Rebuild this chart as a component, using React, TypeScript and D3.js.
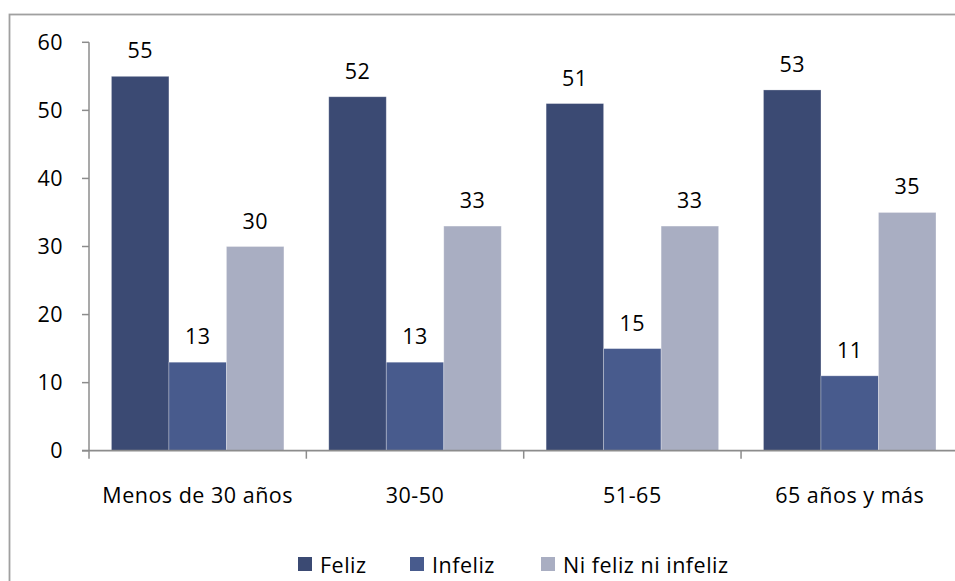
import React from "react";
import * as d3 from "d3";

const categories = ["Menos de 30 años", "30-50", "51-65", "65 años y más"];
const seriesNames = ["Feliz", "Infeliz", "Ni feliz ni infeliz"];
const feliz = [55, 52, 51, 53];
const infeliz = [13, 13, 15, 11];
const niFeliz = [30, 33, 33, 35];
const yTicks = [0, 10, 20, 30, 40, 50, 60];
const colors = ["#3B4A73", "#485B8D", "#A9AEC2"];

const W = 955;
const H = 581;
const FONT = "'Open Sans', 'Liberation Sans', sans-serif";
const FS = 21.5;
const LS = 0.5;

export default function App() {
  const values = [feliz, infeliz, niFeliz];
  const y = d3.scaleLinear().domain([0, 60]).range([450.7, 42.3]);
  const x0 = d3.scaleBand<string>().domain(categories).range([89, 958.4]).padding(0);
  const x1 = d3
    .scaleBand<string>()
    .domain(seriesNames)
    .range([0, x0.bandwidth()])
    .paddingInner(0)
    .paddingOuter(0.39);
  const axisColor = "#8C8C8C";
  const legendX = [298, 410, 541];

  return (
    <svg
      width={W}
      height={H}
      style={{ position: "absolute", left: 0, top: 0, background: "#fff" }}
      fontFamily={FONT}
      letterSpacing={LS}
    >
      <rect x={0} y={0} width={W} height={H} fill="#fff" />
      <rect x={9.5} y={14.5} width={1000} height={700} fill="none" stroke="#A0A0A0" strokeWidth={1.8} />
      {/* bars */}
      {categories.map((c, ci) => (
        <g key={c} transform={`translate(${x0(c)},0)`}>
          {seriesNames.map((s, si) => {
            const v = values[si][ci];
            const bx = x1(s)!;
            return (
              <g key={s}>
                <rect
                  x={bx}
                  y={y(v)}
                  width={x1.bandwidth()}
                  height={y(0) - y(v)}
                  fill={colors[si]}
                  stroke="#ffffff"
                  strokeOpacity={0.35}
                  strokeWidth={0.8}
                />
                <text
                  x={bx + x1.bandwidth() / 2}
                  y={y(v) - 18}
                  textAnchor="middle"
                  fontSize={FS}
                  fill="#000"
                >
                  {v}
                </text>
              </g>
            );
          })}
        </g>
      ))}
      {/* y axis */}
      <line x1={89} x2={89} y1={y(60)} y2={y(0)} stroke={axisColor} strokeWidth={1.5} />
      {yTicks.map((t) => (
        <g key={t}>
          <line x1={82} x2={89} y1={y(t)} y2={y(t)} stroke={axisColor} strokeWidth={1.5} />
          <text x={63} y={y(t)} dy="0.36em" textAnchor="end" fontSize={FS} fill="#000">
            {t}
          </text>
        </g>
      ))}
      {/* x axis */}
      <line x1={82} x2={960} y1={y(0)} y2={y(0)} stroke={axisColor} strokeWidth={1.8} />
      {categories.map((c) => (
        <g key={c}>
          <line x1={x0(c)!} x2={x0(c)!} y1={y(0)} y2={y(0) + 8} stroke={axisColor} strokeWidth={1.5} />
          <text
            x={x0(c)! + x0.bandwidth() / 2}
            y={502.5}
            textAnchor="middle"
            fontSize={FS}
            fill="#000"
          >
            {c}
          </text>
        </g>
      ))}
      {/* legend */}
      {seriesNames.map((s, i) => (
        <g key={s}>
          <rect x={legendX[i]} y={557} width={14} height={14} fill={colors[i]} />
          <text x={legendX[i] + 22} y={572.5} fontSize={FS} fill="#000">
            {s}
          </text>
        </g>
      ))}
    </svg>
  );
}
